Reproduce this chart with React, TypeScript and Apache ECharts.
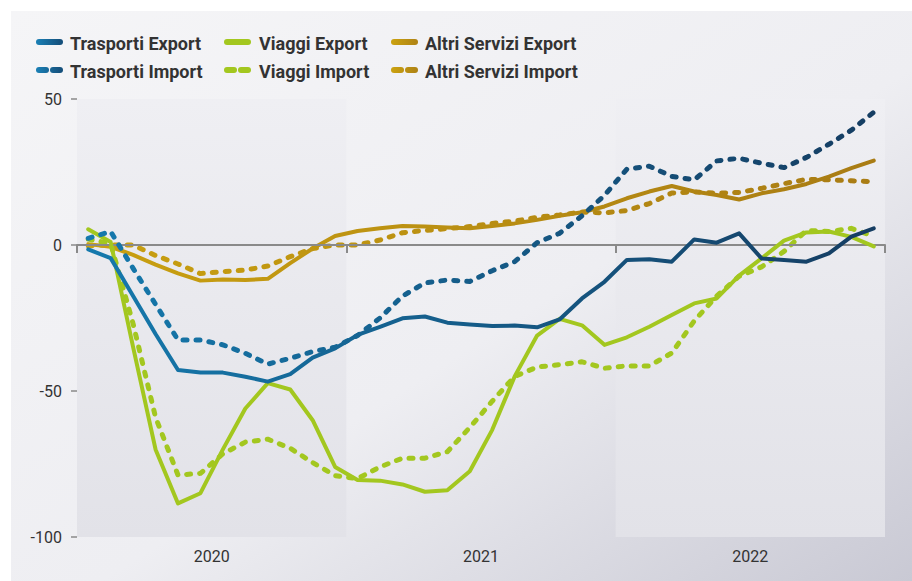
import React, { useEffect, useRef } from "react";
import * as echarts from "echarts";

const years = ["2020", "2021", "2022"];
const months: string[] = [];
years.forEach((y) => {
  for (let m = 1; m <= 12; m++) months.push(`${y}-${m < 10 ? "0" + m : m}`);
});

const yTicks = { min: -100, max: 50, interval: 50 };

const trasportiExport = [-1.5, -4.5, -17.5, -30.5, -42.8, -43.7, -43.7, -45.1, -46.8, -44.2, -38.6, -35.4,
  -30.8, -28, -25.1, -24.5, -26.6, -27.2, -27.7, -27.6, -28.2, -25.5, -18.3, -12.6,
  -5.1, -4.9, -5.7, 1.9, 0.8, 4.0, -4.6, -5.1, -5.7, -2.9, 2.9, 5.7];
const trasportiImport = [2.3, 4.6, -8, -20.3, -32.5, -32.5, -34.2, -37.1, -40.8, -38.8, -36.5, -35,
  -31, -25, -17.5, -13, -12, -12.5, -8.8, -5.7, 0.8, 4, 10, 17,
  26, 27, 23.5, 22.3, 28.8, 29.7, 28, 26.5, 30, 34.5, 39.3, 45.5];
const viaggiExport = [5.4, 1, -35, -70, -88.5, -85, -70, -56, -47.3, -49.5, -60, -76,
  -80.5, -80.7, -82, -84.5, -84, -77.5, -63.3, -45, -31, -25.3, -27.5, -34.2,
  -31.6, -28, -24, -20, -18.3, -10.5, -4.6, 1.5, 4.3, 4.6, 2.8, -0.5];
const viaggiImport = [2, 0.5, -27, -59, -78.8, -78.2, -71.5, -67.5, -66.5, -69.6, -74.5, -79,
  -80, -76, -73, -73, -70.8, -62.5, -53.5, -45, -41.8, -41, -40, -42.2,
  -41.4, -41.4, -37, -26, -17.5, -10.7, -7.5, -2.2, 5, 4.6, 5.7, 3];
const altriExport = [0.3, -0.6, -3.4, -6.7, -9.7, -12.2, -11.8, -12, -11.6, -6.2, -1.2, 3.1,
  4.8, 5.7, 6.5, 6.3, 6, 5.7, 6.5, 7.4, 8.6, 10, 11.2, 13.2,
  16, 18.3, 20.2, 18.3, 17.1, 15.6, 17.7, 19.1, 20.9, 23.4, 26.3, 28.9];
const altriImport = [-0.3, 0, 0, -3.6, -6.5, -9.8, -9.1, -8.6, -7.2, -4, -1.2, 0,
  0, 1.7, 4.2, 5, 5.6, 6.3, 7.4, 8.2, 9.5, 10.3, 11.3, 11,
  11.8, 14.2, 17.8, 18.2, 17.7, 18, 19.4, 21, 22.5, 22.3, 22, 21.7];

const names = {
  te: "Trasporti Export",
  ti: "Trasporti Import",
  ve: "Viaggi Export",
  vi: "Viaggi Import",
  ae: "Altri Servizi Export",
  ai: "Altri Servizi Import",
};

const FONT = "Roboto, 'Noto Sans', sans-serif";

function hGrad(a: string, b: string) {
  return new echarts.graphic.LinearGradient(0, 0, 1, 0, [
    { offset: 0, color: a },
    { offset: 1, color: b },
  ]);
}

export default function App() {
  const ref = useRef<HTMLDivElement>(null);
  useEffect(() => {
    if (!ref.current) return;
    const chart = echarts.init(ref.current, null, { renderer: "svg" });

    const blue = () => hGrad("#1579ad", "#153d62");
    const gold = () => hGrad("#c9a010", "#a97c14");
    const green = "#a3c71f";

    const solid = (c: any) => ({ color: c, width: 4, cap: "round", join: "round" });
    const dashed = (c: any) => ({ color: c, width: 5, type: [4, 9], cap: "round", join: "round" });

    const mk = (name: string, data: number[], ls: any, z: number) => ({
      name,
      type: "line",
      data,
      xAxisIndex: 0,
      yAxisIndex: 0,
      symbol: "none",
      lineStyle: ls,
      z,
      silent: true,
    });

    const legendItems = [
      { name: names.te, col: 0, row: 0, dash: false, c: ["#1a7db2", "#15507c"] },
      { name: names.ve, col: 1, row: 0, dash: false, c: [green, green] },
      { name: names.ae, col: 2, row: 0, dash: false, c: ["#c9a010", "#b08414"] },
      { name: names.ti, col: 0, row: 1, dash: true, c: ["#1a7db2", "#15507c"] },
      { name: names.vi, col: 1, row: 1, dash: true, c: [green, green] },
      { name: names.ai, col: 2, row: 1, dash: true, c: ["#c9a010", "#b08414"] },
    ];
    const colIcon = [38, 226, 393];
    const colText = [70, 259, 425];
    const rowY = [42, 70];
    const legendGraphics: any[] = [];
    legendItems.forEach((it) => {
      const x0 = colIcon[it.col];
      const y = rowY[it.row];
      const stroke = new echarts.graphic.LinearGradient(x0, y, x0 + 23, y, [
        { offset: 0, color: it.c[0] },
        { offset: 1, color: it.c[1] },
      ], true);
      const seg = (a: number, b: number) => ({
        type: "line",
        silent: true,
        shape: { x1: x0 + a, y1: y, x2: x0 + b, y2: y },
        style: { stroke, lineWidth: 6, lineCap: "round" },
      });
      if (it.dash) {
        legendGraphics.push(seg(1, 8));
        legendGraphics.push(seg(15, 22));
      } else {
        legendGraphics.push(seg(1, 22));
      }
      legendGraphics.push({
        type: "text",
        silent: true,
        x: colText[it.col],
        y: y + 1,
        style: { text: it.name, fontSize: 18, fontWeight: "bold", fontFamily: FONT, fill: "#333333", verticalAlign: "middle" },
      });
    });

    chart.setOption({
      animation: false,
      graphic: [
        {
          type: "rect",
          z: -100,
          silent: true,
          shape: { x: 11, y: 11, width: 901, height: 570 },
          style: {
            fill: new echarts.graphic.LinearGradient(0, 0, 1, 1, [
              { offset: 0, color: "#f5f5f7" },
              { offset: 0.55, color: "#eeeef2" },
              { offset: 1, color: "#c9c9d4" },
            ]),
          },
        },
        ...legendGraphics,
      ],
      grid: { left: 77, right: 27, top: 99, bottom: 44, containLabel: false },
      xAxis: [
        {
          type: "category",
          data: months,
          boundaryGap: true,
          axisLine: { onZero: true, lineStyle: { color: "#8a8a8a", width: 2 } },
          axisTick: { show: true, interval: 11, length: 8, alignWithLabel: false, lineStyle: { color: "#8a8a8a", width: 2 } },
          axisLabel: { show: false },
          splitLine: { show: false },
          z: 5,
        },
        {
          type: "category",
          data: years,
          position: "bottom",
          boundaryGap: true,
          axisLine: { show: false, onZero: false },
          axisTick: { show: false },
          axisLabel: { show: true, fontSize: 16, color: "#333333", fontFamily: FONT, margin: 11 },
          splitLine: { show: false },
          splitArea: {
            show: true,
            areaStyle: {
              color: [
                new echarts.graphic.LinearGradient(0, 0, 0, 1, [
                  { offset: 0, color: "#efeff3" },
                  { offset: 1, color: "#e2e2e8" },
                ]),
                "rgba(0,0,0,0)",
              ],
            },
          },
        },
      ],
      yAxis: {
        type: "value",
        min: yTicks.min,
        max: yTicks.max,
        interval: yTicks.interval,
        axisLine: { show: false },
        axisTick: { show: true, length: 6, lineStyle: { color: "#8a8a8a", width: 1.5 } },
        axisLabel: { fontSize: 16, color: "#333333", fontFamily: FONT, margin: 15 },
        splitLine: { show: false },
      },
      series: [
        mk(names.ai, altriImport, dashed(gold()), 2),
        mk(names.ae, altriExport, solid(gold()), 3),
        mk(names.vi, viaggiImport, dashed(green), 4),
        mk(names.ve, viaggiExport, solid(green), 5),
        mk(names.ti, trasportiImport, dashed(blue()), 6),
        mk(names.te, trasportiExport, solid(blue()), 7),
      ],
    });
    return () => chart.dispose();
  }, []);
  return <div ref={ref} style={{ position: "absolute", left: 0, top: 0, width: 912, height: 581 }} />;
}
